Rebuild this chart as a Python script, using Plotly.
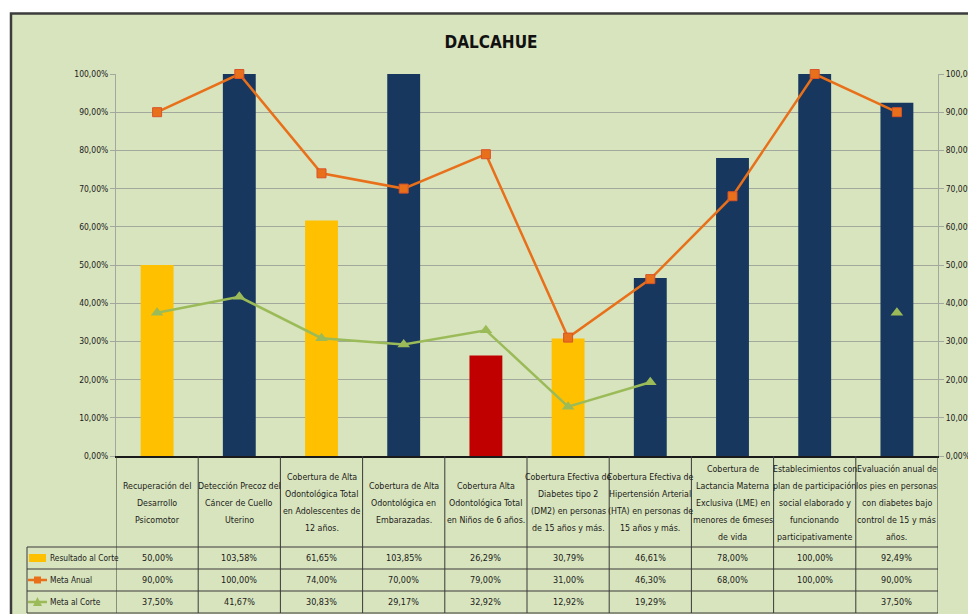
import plotly.graph_objects as go

# ---------------- data ----------------
title_text = "DALCAHUE"
categories = [
    "Recuperación del<br>Desarrollo<br>Psicomotor",
    "Detección Precoz del<br>Cáncer de Cuello<br>Uterino",
    "Cobertura de Alta<br>Odontológica Total<br>en Adolescentes de<br>12 años.",
    "Cobertura de Alta<br>Odontológica en<br>Embarazadas.",
    "Cobertura Alta<br>Odontológica Total<br>en Niños de 6 años.",
    "Cobertura Efectiva de<br>Diabetes tipo 2<br>(DM2) en personas<br>de 15 años y más.",
    "Cobertura Efectiva de<br>Hipertensión Arterial<br>(HTA) en personas de<br>15 años y más.",
    "Cobertura de<br>Lactancia Materna<br>Exclusiva (LME) en<br>menores de 6meses<br>de vida",
    "Establecimientos con<br>plan de participación<br>social elaborado y<br>funcionando<br>participativamente",
    "Evaluación anual de<br>los pies en personas<br>con diabetes bajo<br>control de 15 y más<br>años.",
]
resultado_al_corte = [0.5000, 1.0358, 0.6165, 1.0385, 0.2629, 0.3079, 0.4661, 0.7800, 1.0000, 0.9249]
meta_anual = [0.9000, 1.0000, 0.7400, 0.7000, 0.7900, 0.3100, 0.4630, 0.6800, 1.0000, 0.9000]
meta_al_corte = [0.3750, 0.4167, 0.3083, 0.2917, 0.3292, 0.1292, 0.1929, None, None, 0.3750]
series_names = ["Resultado al Corte", "Meta Anual", "Meta al Corte"]
tick_values = [0.0, 0.1, 0.2, 0.3, 0.4, 0.5, 0.6, 0.7, 0.8, 0.9, 1.0]
tick_labels = ["0,00%", "10,00%", "20,00%", "30,00%", "40,00%", "50,00%",
               "60,00%", "70,00%", "80,00%", "90,00%", "100,00%"]

# ---------------- styles ----------------
YELLOW, NAVY, RED = "#ffc000", "#17375e", "#c00000"
bar_colors = [YELLOW, NAVY, YELLOW, NAVY, RED, YELLOW, NAVY, NAVY, NAVY, NAVY]
ORANGE = "#e8701a"
GREEN = "#9bbb59"
BG = "#d8e4bd"
GRID = "#a3a89c"
TXT = "#1a1a1a"
FONT = "Liberation Sans Narrow, Arial Narrow, DejaVu Sans Condensed, sans-serif"

W, H = 968, 614
OFF = 0                     # body margin removed below
L, R, T, B = 116, 30, 74, 158
PW, PH = W - L - R, H - T - B


def px(p):                  # page pixel x -> paper x
    return (p - OFF - L) / PW


def py(p):                  # page pixel y -> paper y
    return ((H - B) - (p - OFF)) / PH


def pct(v):
    return "" if v is None else f"{v * 100:.2f}%".replace(".", ",")


x_idx = list(range(len(categories)))

fig = go.Figure()
fig.add_trace(go.Bar(
    x=x_idx, y=resultado_al_corte, name=series_names[0],
    marker=dict(color=bar_colors, line=dict(width=0)), width=0.4,
))
fig.add_trace(go.Scatter(
    x=x_idx, y=meta_anual, name=series_names[1], mode="lines+markers",
    line=dict(color=ORANGE, width=2.5),
    marker=dict(symbol="square", size=9, color=ORANGE, line=dict(color="#d9532b", width=1)),
    yaxis="y2", cliponaxis=False,
))
fig.add_trace(go.Scatter(
    x=x_idx, y=meta_al_corte, name=series_names[2], mode="lines+markers",
    line=dict(color=GREEN, width=2.5),
    marker=dict(symbol="triangle-up", size=11, color=GREEN),
    yaxis="y2", cliponaxis=False, connectgaps=False,
))

shapes = []
# outer frame / background
shapes.append(dict(type="rect", xref="paper", yref="paper", layer="below",
                   x0=px(11), x1=px(990), y0=py(640), y1=py(13.5),
                   fillcolor=BG, line=dict(color="#3c3c3c", width=2.5)))

LINE = dict(color="#3a3a3a", width=1)
TABLE_TOP = 456
rows_px = [547, 569, 591, 613]
# vertical column lines of the data table
for i in range(len(categories) + 1):
    shapes.append(dict(type="line", xref="x", yref="paper", x0=i - 0.5, x1=i - 0.5,
                       y0=py(rows_px[-1]), y1=py(TABLE_TOP), line=LINE))
# legend column left border
shapes.append(dict(type="line", xref="paper", yref="paper", x0=px(27), x1=px(27),
                   y0=py(rows_px[-1]), y1=py(rows_px[0]), line=LINE))
# horizontal row lines
for r in rows_px:
    shapes.append(dict(type="line", xref="paper", yref="paper", x0=px(27), x1=1,
                       y0=py(r), y1=py(r), line=LINE))

# legend keys
shapes.append(dict(type="rect", xref="paper", yref="paper", x0=px(29), x1=px(46),
                   y0=py(562), y1=py(554), fillcolor=YELLOW, line=dict(width=0)))
shapes.append(dict(type="line", xref="paper", yref="paper", x0=px(28), x1=px(47),
                   y0=py(580), y1=py(580), line=dict(color=ORANGE, width=2.5)))
shapes.append(dict(type="rect", xref="paper", yref="paper", x0=px(34), x1=px(41),
                   y0=py(583.5), y1=py(576.5), fillcolor=ORANGE, line=dict(width=0)))
shapes.append(dict(type="line", xref="paper", yref="paper", x0=px(28), x1=px(47),
                   y0=py(602), y1=py(602), line=dict(color=GREEN, width=2.5)))
tri = f"M {px(37.5)} {py(597)} L {px(42)} {py(606)} L {px(33)} {py(606)} Z"
shapes.append(dict(type="path", xref="paper", yref="paper", path=tri,
                   fillcolor=GREEN, line=dict(width=0)))

ann = []
HEAD_CENTER, HEAD_STEP = 502.5, 17
for i, c in enumerate(categories):
    lines = c.split("<br>")
    n = len(lines)
    for j, ln in enumerate(lines):
        ann.append(dict(x=i, y=py(HEAD_CENTER + (j - (n - 1) / 2) * HEAD_STEP),
                        xref="x", yref="paper", text=ln,
                        showarrow=False, align="center", yanchor="middle",
                        font=dict(size=8.8, color=TXT, family=FONT)))
row_centers = [(rows_px[k] + rows_px[k + 1]) / 2 for k in range(3)]
for k, series in enumerate([resultado_al_corte, meta_anual, meta_al_corte]):
    for i, v in enumerate(series):
        ann.append(dict(x=i, y=py(row_centers[k]), xref="x", yref="paper", text=pct(v),
                        showarrow=False, yanchor="middle",
                        font=dict(size=9, color=TXT, family=FONT)))
    ann.append(dict(x=px(47.5), y=py(row_centers[k]), xref="paper", yref="paper",
                    text=series_names[k], showarrow=False, xanchor="left", yanchor="middle",
                    font=dict(size=8.3, color=TXT, family=FONT)))

yax = dict(range=[0, 1], tickvals=tick_values, ticktext=tick_labels,
           showgrid=True, gridcolor=GRID, gridwidth=1, zeroline=False,
           showline=True, linecolor=GRID, linewidth=1,
           ticks="outside", ticklen=5, tickcolor=GRID,
           tickfont=dict(size=8.5, color=TXT, family=FONT), fixedrange=True)

fig.update_layout(
    width=W, height=H,
    margin=dict(l=L, r=R, t=T, b=B, autoexpand=False),
    paper_bgcolor="white", plot_bgcolor=BG,
    showlegend=False, bargap=0.6,
    title=dict(text=f"<b>{title_text}</b>",
               x=(491 - OFF) / W, xref="container", xanchor="center",
               y=1 - (42 - OFF) / H, yref="container", yanchor="middle",
               font=dict(size=17, color="#111", family=FONT)),
    xaxis=dict(range=[-0.5, len(categories) - 0.5], showticklabels=False, ticks="",
               showgrid=False, zeroline=False, showline=True, linecolor="#1a1a1a",
               linewidth=1.5, fixedrange=True),
    yaxis=dict(**yax, automargin=False),
    yaxis2=dict(**yax, overlaying="y", side="right", automargin=False),
    shapes=shapes, annotations=ann,
    font=dict(family=FONT, color=TXT),
)

fig.write_html("out.html",
               config={"displayModeBar": False},
               post_script="document.body.style.margin='0';document.body.style.overflow='hidden';")
